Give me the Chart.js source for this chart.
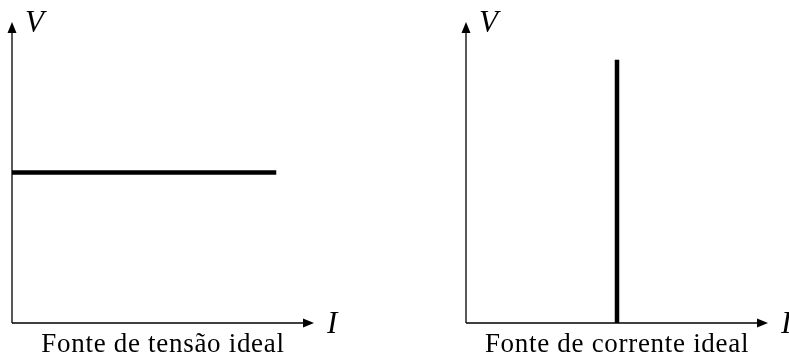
<!DOCTYPE html>
<html>
<head>
<meta charset="utf-8">
<script src="https://cdn.jsdelivr.net/npm/chart.js@4.4.1/dist/chart.umd.min.js"></script>
<style>
html,body{margin:0;padding:0;background:#fff;}
#wrap{position:relative;width:789px;height:356px;overflow:hidden;}
.box{position:absolute;top:0;height:356px;}
</style>
</head>
<body>
<div id="wrap">
  <div class="box" style="left:0;width:394px;"><canvas id="c1"></canvas></div>
  <div class="box" style="left:394px;width:395px;"><canvas id="c2"></canvas></div>
</div>
<script>
// Data (axis units 0..4)
const axisMax = 4;
const voltageSourceI = [0, 3.5];
const voltageSourceV = [2, 2];
const currentSourceI = [2, 2];
const currentSourceV = [0, 3.5];
const panelTitles = ["Fonte de tensão ideal", "Fonte de corrente ideal"];
const axisNames = { x: "I", y: "V" };

function pts(xs, ys){ return xs.map((x,i)=>({x:x, y:ys[i]})); }

const axesPlugin = {
  id: 'axesArrows',
  beforeDatasetsDraw(chart, args, opts){
    const ctx = chart.ctx, a = chart.chartArea;
    const x0 = a.left, y0 = a.bottom, x1 = a.right, y1 = a.top;
    const head = 11, hw = 4.5;
    ctx.save();
    ctx.strokeStyle = '#000'; ctx.fillStyle = '#000'; ctx.lineWidth = 1.3;
    ctx.beginPath();
    ctx.moveTo(x0, y0); ctx.lineTo(x1 - head + 1, y0);
    ctx.moveTo(x0, y0); ctx.lineTo(x0, y1 + head - 1);
    ctx.stroke();
    // x arrow
    ctx.beginPath();
    ctx.moveTo(x1, y0); ctx.lineTo(x1 - head, y0 - hw); ctx.lineTo(x1 - head, y0 + hw); ctx.closePath(); ctx.fill();
    // y arrow
    ctx.beginPath();
    ctx.moveTo(x0, y1); ctx.lineTo(x0 - hw, y1 + head); ctx.lineTo(x0 + hw, y1 + head); ctx.closePath(); ctx.fill();
    // axis names
    ctx.font = 'italic 31px "Liberation Serif", serif';
    ctx.textBaseline = 'alphabetic';
    ctx.textAlign = 'left';
    ctx.fillText(axisNames.y, x0 + 13, 32);
    ctx.fillText(axisNames.x, x1 + 13, 333);
    // panel title
    ctx.font = '27px "Liberation Serif", serif';
    if ('letterSpacing' in ctx) ctx.letterSpacing = '0.7px';
    ctx.textAlign = 'center';
    ctx.fillText(opts.title, (x0 + x1) / 2, 352);
    ctx.restore();
  }
};

function makeChart(id, data, title, pad){
  return new Chart(document.getElementById(id), {
    type: 'scatter',
    data: { datasets: [{ data: data, showLine: true, borderColor: '#000', borderWidth: 4.5,
      pointRadius: 0, borderCapStyle: 'butt', fill: false }] },
    options: {
      responsive: true, maintainAspectRatio: false, animation: false,
      layout: { padding: pad },
      plugins: { legend: { display: false }, tooltip: { enabled: false }, axesArrows: { title: title } },
      scales: {
        x: { type: 'linear', min: 0, max: axisMax, display: false },
        y: { type: 'linear', min: 0, max: axisMax, display: false }
      },
      events: []
    },
    plugins: [axesPlugin]
  });
}

makeChart('c1', pts(voltageSourceI, voltageSourceV), panelTitles[0], {left: 12, right: 80, top: 22, bottom: 33});
makeChart('c2', pts(currentSourceI, currentSourceV), panelTitles[1], {left: 72, right: 21, top: 22, bottom: 33});
</script>
</body>
</html>
